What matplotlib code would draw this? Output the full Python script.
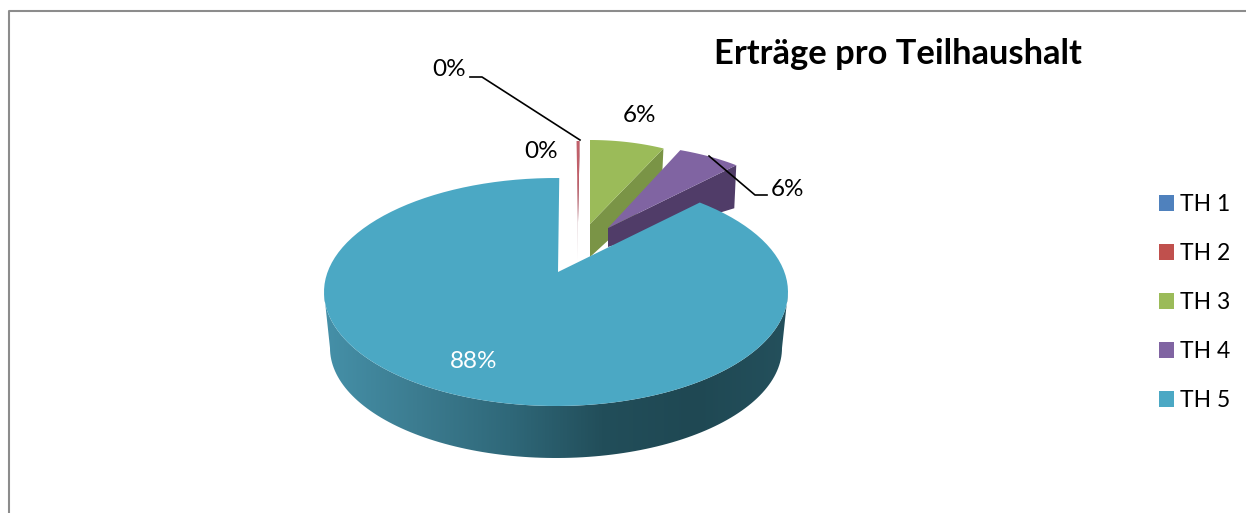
import numpy as np
import matplotlib
matplotlib.use('Agg')
import matplotlib.pyplot as plt
from matplotlib.colors import LinearSegmentedColormap
from matplotlib.patches import Patch, Polygon

# values, in percent
households = ['TH 1', 'TH 2', 'TH 3', 'TH 4', 'TH 5']
shares = [0.0, 0.3, 6.0, 6.0, 88.0]
share_labels = ['0%', '0%', '6%', '6%', '88%']
chart_title = 'Erträge pro Teilhaushalt'

top_colors = ['#4F81BD', '#C0606A', '#9BBB59', '#8064A2', '#4BA8C4']
side_colors = ['#3A5F8C', '#8C4A5A', '#7A9446', '#503C68', '#2F6A7C']
wall_colors = ['#4590A8', '#3C7C90', '#2F6879', '#224E5A', '#1F4853', '#24505C']

# perspective of the exploded pie, in pixels
RX, RY = 232, 114
CX, CY = 556, 292
WALL_RX, WALL_RY = 226, 110
WALL_CX, WALL_CY = 556, 348

# slice: apex, arc radii, start angle of arc, stretch of sweep, drop of cut face
slice_view = {
    'TH 1': ((577, 222), (168, 81), 90.0, 1.0, 38),
    'TH 2': ((578, 222), (168, 81), 90.5, 1.0, 38),
    'TH 3': ((590, 224), (168, 84), 90.0, 1.2, 33),
    'TH 4': ((608, 228), (193, 84), 68.0, 0.91, 19),
}


def arc_points(cx, cy, rx, ry, start, sweep):
    # clockwise on screen, angles in degrees
    t = np.radians(np.linspace(start, start - sweep, 120))
    return np.column_stack([cx + rx * np.cos(t), cy - ry * np.sin(t)])


def draw_small_slice(ax, idx):
    (ax_x, ax_y), (rx, ry), start, stretch, drop = slice_view[households[idx]]
    arc = arc_points(ax_x, ax_y, rx, ry, start, shares[idx] * 3.6 * stretch)
    top = np.vstack([[ax_x, ax_y], arc])
    # cut face on the clockwise side, it hangs down below the apex
    end = arc[-1]
    side = np.array([[ax_x, ax_y], end, end + [-2, 43], [ax_x, ax_y + drop]])
    if shares[idx] > 0:
        ax.add_patch(Polygon(side, closed=True, fc=side_colors[idx], ec='none', zorder=2))
        ax.add_patch(Polygon(top, closed=True, fc=top_colors[idx], ec='none', zorder=3))


def draw_big_slice(ax, idx):
    # outer wall with a horizontal shading, clipped to the band between the ellipses
    upper = arc_points(CX, CY, RX, RY, 180, -180)
    lower = arc_points(WALL_CX, WALL_CY, WALL_RX, WALL_RY, 360, 180)
    wall = Polygon(np.vstack([upper, lower]), closed=True, fc='none', ec='none',
                   transform=ax.transData)
    ax.add_patch(wall)
    cmap = LinearSegmentedColormap.from_list('wall', wall_colors)
    img = ax.imshow(np.linspace(0, 1, 256)[None, :], cmap=cmap, aspect='auto',
                    extent=(CX - RX, CX + RX, 460, 290), zorder=4)
    img.set_clip_path(wall)

    # top face, starts at the upper cut edge and runs clockwise round to the top
    sweep = shares[idx] * 3.6 * 1.018
    arc = arc_points(CX, CY, RX, RY, 51.7, sweep)
    ax.add_patch(Polygon(np.vstack([[558, 272], arc]), closed=True,
                         fc=top_colors[idx], ec='none', zorder=5))


fig = plt.figure(figsize=(12.46, 5.13), dpi=100)
ax = fig.add_axes([0, 0, 1, 1])
ax.set_xlim(0, 1246)
ax.set_ylim(513, 0)
ax.axis('off')
plt.rcParams['font.family'] = ['Lato', 'DejaVu Sans']

# chart frame, only the left and top edges are inside the crop
ax.plot([9, 9, 1246], [513, 11, 11], color='#8C8C8C', lw=1.5, zorder=1)

for i in range(4):
    draw_small_slice(ax, i)
draw_big_slice(ax, 4)

# data labels and leader lines
label_pos = [(541, 152), (449, 70), (639, 115), (787, 190), (474, 361)]
for i, txt in enumerate(share_labels):
    ax.text(label_pos[i][0], label_pos[i][1], txt, fontsize=17.5, ha='center', va='center',
            color='white' if i == 4 else 'black', zorder=7)
ax.plot([470, 482, 580], [77, 77, 140], color='black', lw=1.2, zorder=6)
ax.plot([709, 755, 767], [156, 195, 195], color='black', lw=1.2, zorder=6)

ax.text(898, 54, chart_title, fontsize=24.8, fontweight='bold', ha='center', va='center')

handles = [Patch(fc=c, ec='none') for c in ['#4F81BD', '#C0504D', '#9BBB59', '#8064A2', '#4BA8C4']]
ax.legend(handles, households, loc='center left', bbox_to_anchor=(1159, 302.5),
          bbox_transform=ax.transData, frameon=False, fontsize=16.5, handlelength=0.655,
          handleheight=0.655, handletextpad=0.26, labelspacing=1.22, borderpad=0,
          borderaxespad=0)

fig.savefig('out.png', dpi=100)
plt.close(fig)
